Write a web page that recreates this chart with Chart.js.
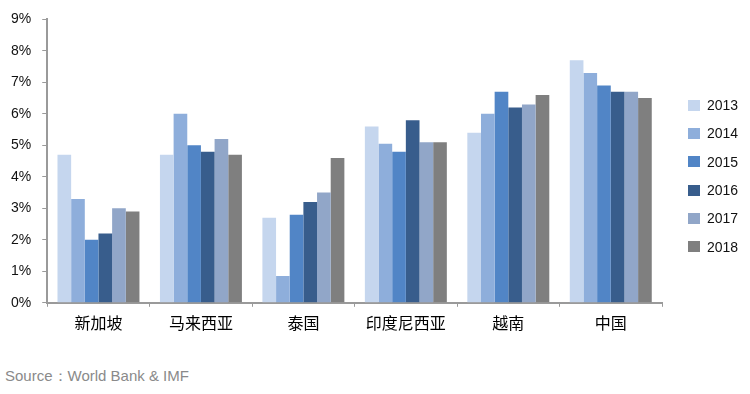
<!DOCTYPE html>
<html>
<head>
<meta charset="utf-8">
<script src="https://cdn.jsdelivr.net/npm/chart.js@4/dist/chart.umd.min.js"></script>
<style>
  body { margin: 0; background: #fff; width: 750px; height: 394px; overflow: hidden; position: relative; }
  #wrap { position: absolute; left: 0; top: 0; width: 750px; height: 340px; }
  #legend { position: absolute; left: 688px; top: 91px; font-family: "Liberation Sans", Arial, sans-serif; font-size: 14px; color: #111; }
  .item { height: 28.3px; display: flex; align-items: center; }
  .box { width: 12px; height: 11px; margin-right: 7px; }
  #source { position: absolute; left: 5px; top: 367px; font-family: "Liberation Sans", Arial, sans-serif; font-size: 15px; color: #8a8a8a; }
</style>
</head>
<body>
<div id="wrap"><canvas id="chart"></canvas></div>
<div id="legend"></div>
<div id="source">Source：World Bank &amp; IMF</div>
<script>
const countries = ["新加坡", "马来西亚", "泰国", "印度尼西亚", "越南", "中国"];
const years = ["2013", "2014", "2015", "2016", "2017", "2018"];
const colors = ["#c5d6ee", "#8eaedb", "#5185c6", "#385d8c", "#91a6c8", "#7f7f7f"];

// growth rate by year, one value per country
const g2013 = [4.7, 4.7, 2.7, 5.6, 5.4, 7.7];
const g2014 = [3.3, 6.0, 0.85, 5.05, 6.0, 7.3];
const g2015 = [2.0, 5.0, 2.8, 4.8, 6.7, 6.9];
const g2016 = [2.2, 4.8, 3.2, 5.8, 6.2, 6.7];
const g2017 = [3.0, 5.2, 3.5, 5.1, 6.3, 6.7];
const g2018 = [2.9, 4.7, 4.6, 5.1, 6.6, 6.5];
const series = [g2013, g2014, g2015, g2016, g2017, g2018];

const yTicks = [0, 1, 2, 3, 4, 5, 6, 7, 8, 9];

const legend = document.getElementById("legend");
years.forEach((y, i) => {
  const div = document.createElement("div");
  div.className = "item";
  div.innerHTML = `<span class="box" style="background:${colors[i]}"></span>${y}`;
  legend.appendChild(div);
});

new Chart(document.getElementById("chart"), {
  type: "bar",
  data: {
    labels: countries,
    datasets: years.map((y, i) => ({
      label: y,
      data: series[i],
      backgroundColor: colors[i],
      borderWidth: 0,
      categoryPercentage: 0.8,
      barPercentage: 1.0
    }))
  },
  options: {
    responsive: true,
    maintainAspectRatio: false,
    animation: false,
    layout: { padding: { left: 0, right: 88, top: 17, bottom: 0 } },
    plugins: { legend: { display: false }, tooltip: { enabled: false } },
    scales: {
      x: {
        grid: { display: true, drawOnChartArea: false, tickLength: 4, color: "#9a9a9a" },
        border: { color: "#9a9a9a", width: 2 },
        ticks: { color: "#000", padding: 7, font: { family: "'Noto Sans CJK SC', sans-serif", size: 16 } }
      },
      y: {
        min: 0,
        max: 9,
        afterBuildTicks: (axis) => { axis.ticks = yTicks.map(v => ({ value: v })); },
        grid: { display: true, drawOnChartArea: false, tickLength: 5, color: "#9a9a9a" },
        border: { color: "#9a9a9a", width: 2 },
        ticks: {
          color: "#111",
          padding: 11,
          font: { family: "'Liberation Sans', Arial, sans-serif", size: 14 },
          callback: (v) => v + "%"
        }
      }
    }
  }
});
</script>
</body>
</html>
